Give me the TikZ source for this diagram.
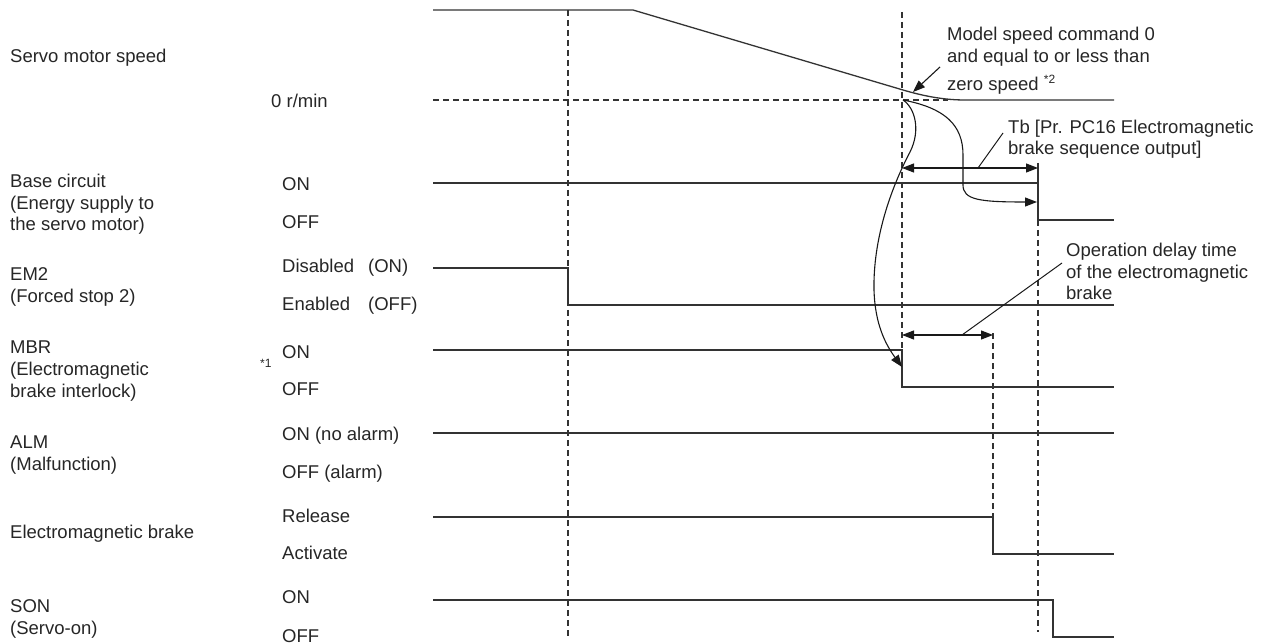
\documentclass[tikz,border=0pt]{standalone}
\usepackage{fontspec}
\setmainfont{Liberation Sans}
\usetikzlibrary{arrows.meta}
\begin{document}
\begin{tikzpicture}[x=1pt,y=-1pt,
  sig/.style={line width=1.3pt, draw=black!80, line join=miter},
  guide/.style={line width=1.1pt, draw=black!80, dash pattern=on 6pt off 4pt},
  lbl/.style={anchor=base west, inner sep=0pt, font=\fontsize{18.5}{22}\selectfont, text=black!85},
  small/.style={anchor=base west, inner sep=0pt, font=\fontsize{12}{12}\selectfont, text=black!85},
  arr/.style={line width=1.1pt, draw=black!90, -{Triangle[length=12pt,width=9pt]}},
  darr/.style={line width=1.1pt, draw=black!90, {Triangle[length=12pt,width=9pt]}-{Triangle[length=12pt,width=9pt]}},
  lead/.style={line width=1pt, draw=black!90}
]
\useasboundingbox (0,0) rectangle (1266,644);

% left signal names
\node[lbl] (sms) at (10,63) {Servo motor speed};
\node[lbl] (bc1) at (10,188) {Base circuit};
\node[lbl] (bc2) at (10,209.5) {(Energy supply to};
\node[lbl] (bc3) at (10,231) {the servo motor)};
\node[lbl] (em1) at (10,280) {EM2};
\node[lbl] (em2) at (10,302) {(Forced stop 2)};
\node[lbl] (mb1) at (10,353) {MBR};
\node[lbl] (mb2) at (10,375) {(Electromagnetic};
\node[lbl] (mb3) at (10,397) {brake interlock)};
\node[lbl] (al1) at (10,448) {ALM};
\node[lbl] (al2) at (10,470) {(Malfunction)};
\node[lbl] (eb) at (10,538) {Electromagnetic brake};
\node[lbl] (so1) at (10,612) {SON};
\node[lbl] (so2) at (10,634) {(Servo-on)};

% state labels
\node[lbl] (zr) at (271,108) {0 r/min};
\node[lbl] (bcon) at (282,191) {ON};
\node[lbl] (bcoff) at (282,229) {OFF};
\node[lbl] (emon) at (282,273) {\makebox[86pt][l]{Disabled}(ON)};
\node[lbl] (emoff) at (282,311) {\makebox[86pt][l]{Enabled}(OFF)};
\node[small] (n1) at (260,367) {*1};
\node[lbl] (mbon) at (282,358) {ON};
\node[lbl] (mboff) at (282,395) {OFF};
\node[lbl] (alon) at (282,440) {ON (no alarm)};
\node[lbl] (aloff) at (282,478) {OFF (alarm)};
\node[lbl] (ebon) at (282,522) {Release};
\node[lbl] (eboff) at (282,559) {Activate};
\node[lbl] (soon) at (282,603) {ON};
\node[lbl] (sooff) at (282,642) {OFF};

% annotations
\node[lbl] (m1) at (947,41) {Model speed command 0};
\node[lbl] (m2) at (947,63) {and equal to or less than};
\node[lbl] (m3) at (947,91) {zero speed \raisebox{7pt}{\fontsize{12}{12}\selectfont *2}};
\node[lbl] (tb1) at (1008,134) {Tb [Pr. PC16 Electromagnetic};
\node[lbl] (tb2) at (1008,155) {brake sequence output]};
\node[lbl] (od1) at (1066,257) {Operation delay time};
\node[lbl] (od2) at (1066,278.5) {of the electromagnetic};
\node[lbl] (od3) at (1066,300) {brake};

% guide lines
\draw[guide] (433,100) -- (948,100);
\draw[guide] (568,10) -- (568,636);
\draw[guide] (902,12) -- (902,350);
\draw[guide] (1038,220) -- (1038,632);
\draw[guide] (993,333) -- (993,517);

% signals
\draw[sig] (433,10) -- (633,10) -- (903,90) .. controls (925,96.5) and (945,100) .. (965,100) -- (1114,100);
\draw[sig] (1038,163) -- (1038,183);
\draw[sig] (433,183) -- (1038,183) -- (1038,220) -- (1114,220);
\draw[sig] (433,268) -- (568,268) -- (568,305) -- (1114,305);
\draw[sig] (433,350) -- (902,350) -- (902,387) -- (1114,387);
\draw[sig] (433,433) -- (1114,433);
\draw[sig] (433,517) -- (993,517) -- (993,554) -- (1114,554);
\draw[sig] (433,600) -- (1053,600) -- (1053,637) -- (1114,637);

% connectors
\coordinate (z0) at (903,100);
\coordinate (bcstep) at (1037,202);
\coordinate (mbrstep) at (902,367);
\coordinate (mscA) at (940,67);
\coordinate (mscB) at (913,92);
\coordinate (tbL) at (902,168);
\coordinate (tbR) at (1038,168);
\coordinate (tbA) at (978,168);
\coordinate (tbB) at (1003,133);
\coordinate (odL) at (902,335);
\coordinate (odR) at (993,335);
\coordinate (odA) at (962,335);
\coordinate (odB) at (1062,263);

\draw[arr] (mscA) -- (mscB);
\draw[arr] (z0) .. controls (945,108) and (963,125) .. (963,155) -- (963,185) .. controls (963,200) and (980,202) .. (bcstep);
\draw[arr] (z0) .. controls (915,108) and (921,130) .. (910,152) .. controls (890,190) and (873,240) .. (874,290) .. controls (875,325) and (886,345) .. (mbrstep);
\draw[darr] (tbL) -- (tbR);
\draw[lead] (tbA) -- (tbB);
\draw[darr] (odL) -- (odR);
\draw[lead] (odA) -- (odB);
\end{tikzpicture}
\end{document}
